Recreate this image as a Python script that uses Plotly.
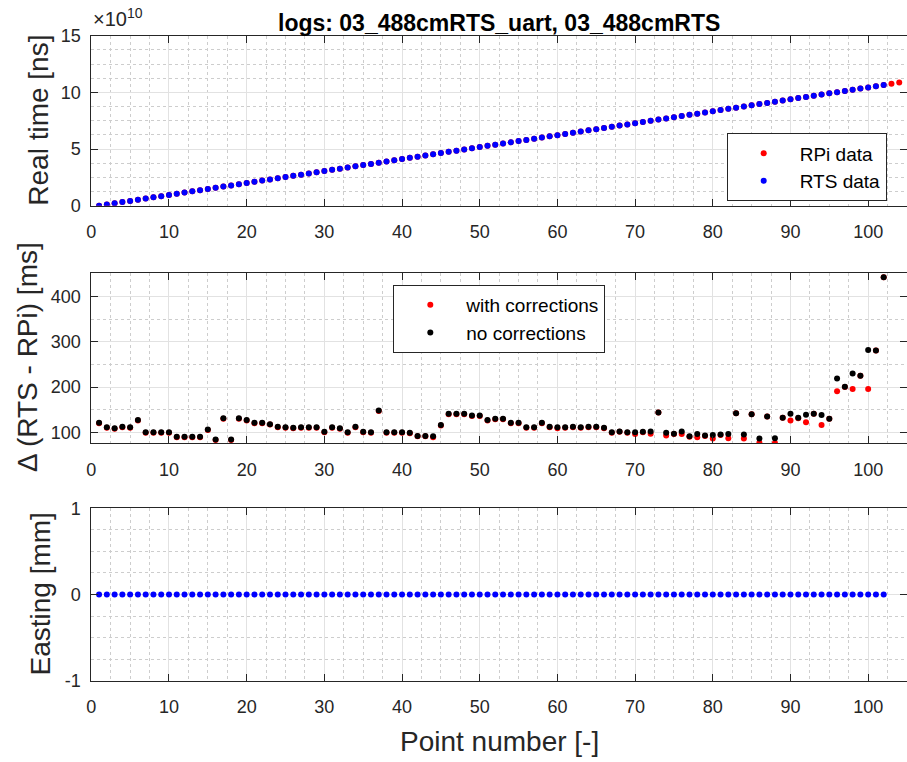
import plotly.graph_objects as go

# ---------------- data ----------------
point_rpi = list(range(1, 105))
point_rts = list(range(1, 103))

# real time, in units of 1e10 ns
rpi_time_e10 = [
    0.00, 0.11, 0.21, 0.32, 0.42, 0.53, 0.63, 0.74, 0.84, 0.95,
    1.06, 1.16, 1.27, 1.37, 1.48, 1.58, 1.69, 1.79, 1.90, 2.00,
    2.11, 2.22, 2.32, 2.43, 2.53, 2.64, 2.74, 2.85, 2.95, 3.06,
    3.17, 3.27, 3.38, 3.48, 3.59, 3.69, 3.80, 3.90, 4.01, 4.11,
    4.22, 4.33, 4.43, 4.54, 4.64, 4.75, 4.85, 4.96, 5.06, 5.17,
    5.28, 5.38, 5.49, 5.59, 5.70, 5.80, 5.91, 6.01, 6.12, 6.22,
    6.33, 6.44, 6.54, 6.65, 6.75, 6.86, 6.96, 7.07, 7.17, 7.28,
    7.39, 7.49, 7.60, 7.70, 7.81, 7.91, 8.02, 8.12, 8.23, 8.33,
    8.44, 8.55, 8.65, 8.76, 8.86, 8.97, 9.07, 9.18, 9.28, 9.39,
    9.50, 9.60, 9.71, 9.81, 9.92, 10.02, 10.13, 10.23, 10.34, 10.44,
    10.55, 10.66, 10.76, 10.87,
]
rts_time_e10 = rpi_time_e10[:102]

# delta RTS - RPi [ms]
delta_no_corr = [
    121, 111, 109, 112, 111, 127, 100, 100, 100, 100,
    90, 90, 90, 90, 106, 84, 131, 84, 131, 127,
    121, 121, 118, 112, 111, 110, 111, 111, 111, 101,
    111, 109, 100, 112, 101, 100, 148, 100, 100, 100,
    99, 92, 92, 91, 116, 141, 141, 141, 137, 137,
    127, 130, 130, 121, 121, 111, 111, 121, 112, 111,
    111, 112, 111, 112, 112, 110, 100, 102, 100, 100,
    101, 102, 144, 99, 97, 102, 91, 96, 93, 94,
    95, 96, 142, 95, 140, 86, 135, 87, 132, 141,
    132, 139, 141, 138, 130, 219, 201, 230, 225, 282,
    281, 443,
]
delta_with_corr = [
    120, 110, 108, 111, 110, 126, 99, 99, 99, 99,
    89, 89, 89, 89, 105, 83, 130, 83, 130, 126,
    120, 120, 117, 111, 110, 109, 110, 110, 110, 100,
    110, 108, 99, 111, 100, 99, 147, 99, 99, 99,
    98, 91, 91, 89, 115, 140, 140, 140, 136, 136,
    126, 129, 129, 120, 120, 110, 110, 120, 111, 109,
    110, 111, 110, 111, 111, 109, 99, 101, 99, 96,
    100, 97, 144, 93, 96, 96, 90, 89, 92, 86,
    94, 87, 142, 86, 140, 77, 135, 76, 132, 126,
    131, 122, 141, 116, 130, 191, 200, 196, 225, 196,
    281, 443,
]

easting_mm = [
    0, 0, 0, 0, 0, 0, 0, 0, 0, 0, 0, 0, 0, 0, 0, 0, 0,
    0, 0, 0, 0, 0, 0, 0, 0, 0, 0, 0, 0, 0, 0, 0, 0, 0,
    0, 0, 0, 0, 0, 0, 0, 0, 0, 0, 0, 0, 0, 0, 0, 0, 0,
    0, 0, 0, 0, 0, 0, 0, 0, 0, 0, 0, 0, 0, 0, 0, 0, 0,
    0, 0, 0, 0, 0, 0, 0, 0, 0, 0, 0, 0, 0, 0, 0, 0, 0,
    0, 0, 0, 0, 0, 0, 0, 0, 0, 0, 0, 0, 0, 0, 0, 0, 0,
]

x_ticks = [0, 10, 20, 30, 40, 50, 60, 70, 80, 90, 100]
top_tick_vals = [0, 5e10, 10e10, 15e10]
top_tick_text = ["0", "5", "10", "15"]
bottom_tick_vals = [-1, 0, 1]
bottom_tick_text = ["-1", "0", "1"]

# ---------------- style ----------------
FONT = "Liberation Sans"
TXT = "#262626"
W, H = 907, 762


def py(px):
    return 1 - px / H


axis_common = dict(
    showline=True, linecolor=TXT, linewidth=1, mirror="ticks",
    ticks="inside", ticklen=7, tickcolor=TXT, tickwidth=1,
    tickfont=dict(family=FONT, size=18, color=TXT),
    showgrid=True, gridcolor="#e2e2e2", gridwidth=1, zeroline=False,
    automargin=False,
)
minor_grid = dict(showgrid=True, gridcolor="#cdcdcd", griddash="dot", gridwidth=1)


def xax(anchor):
    return dict(axis_common, range=[0, 105], tickvals=x_ticks, anchor=anchor,
                domain=[91.3 / W, 1], ticklabelstandoff=10,
                minor=dict(minor_grid, dtick=2.5, tick0=0))


fig = go.Figure()
mk = dict(size=6, line=dict(width=0))

fig.add_trace(go.Scatter(x=point_rpi, y=[v * 1e10 for v in rpi_time_e10], mode="markers",
                         marker=dict(mk, color="#ff0000"), name="RPi data",
                         xaxis="x", yaxis="y", legend="legend"))
fig.add_trace(go.Scatter(x=point_rts, y=[v * 1e10 for v in rts_time_e10], mode="markers",
                         marker=dict(mk, color="#0000ff"), name="RTS data",
                         xaxis="x", yaxis="y", legend="legend"))
fig.add_trace(go.Scatter(x=point_rts, y=delta_with_corr, mode="markers",
                         marker=dict(mk, color="#ff0000"), name="with corrections",
                         xaxis="x2", yaxis="y2", legend="legend2"))
fig.add_trace(go.Scatter(x=point_rts, y=delta_no_corr, mode="markers",
                         marker=dict(mk, color="#000000"), name="no corrections",
                         xaxis="x2", yaxis="y2", legend="legend2"))
fig.add_trace(go.Scatter(x=point_rts, y=easting_mm, mode="markers",
                         marker=dict(mk, color="#0000ff"), name="Easting",
                         xaxis="x3", yaxis="y3", showlegend=False))

legend_common = dict(
    xanchor="left", yanchor="top", bgcolor="#ffffff", bordercolor=TXT, borderwidth=1,
    font=dict(family=FONT, size=19, color="#000000"), itemwidth=62,
)

fig.update_layout(
    width=W, height=H,
    margin=dict(l=0, r=0, t=0, b=0, autoexpand=False),
    paper_bgcolor="#ffffff", plot_bgcolor="#ffffff",
    font=dict(family=FONT, color=TXT),
    showlegend=True,
    xaxis=xax("y"),
    xaxis2=xax("y2"),
    xaxis3=xax("y3"),
    yaxis=dict(axis_common, range=[0, 15e10], tickvals=top_tick_vals, ticktext=top_tick_text,
               domain=[py(205.7), py(35.7)], anchor="x", ticklabelstandoff=6,
               minor=dict(minor_grid, dtick=1.25e10, tick0=0)),
    yaxis2=dict(axis_common, range=[75.6, 452], tickvals=[100, 200, 300, 400],
                domain=[py(443.3), py(273.3)], anchor="x2", ticklabelstandoff=6,
                minor=dict(minor_grid, dtick=50, tick0=0)),
    yaxis3=dict(axis_common, range=[-1, 1], tickvals=bottom_tick_vals, ticktext=bottom_tick_text,
                domain=[py(680.7), py(508.3)], anchor="x3", ticklabelstandoff=6,
                minor=dict(minor_grid, dtick=0.25, tick0=0)),
    legend=dict(legend_common, x=726.7 / W, y=py(133.3)),
    legend2=dict(legend_common, x=393.3 / W, y=py(285)),
)

annotations = [
    dict(text="<b>logs: 03_488cmRTS_uart, 03_488cmRTS</b>", x=498.5 / W, y=py(23.5),
         xanchor="center", yanchor="middle", font=dict(family=FONT, size=23, color="#000000")),
    dict(text="×10<sup>10</sup>", x=91 / W, y=py(32), xanchor="left", yanchor="bottom",
         font=dict(family=FONT, size=20, color=TXT)),
    dict(text="Real time [ns]", x=39 / W, y=py(120.7), textangle=-90,
         xanchor="center", yanchor="middle", font=dict(family=FONT, size=28, color=TXT)),
    dict(text="Δ (RTS - RPi) [ms]", x=27 / W, y=py(357), textangle=-90,
         xanchor="center", yanchor="middle", font=dict(family=FONT, size=28, color=TXT)),
    dict(text="Easting [mm]", x=40 / W, y=py(594.5), textangle=-90,
         xanchor="center", yanchor="middle", font=dict(family=FONT, size=28, color=TXT)),
    dict(text="Point number [-]", x=499.5 / W, y=py(741.7),
         xanchor="center", yanchor="middle", font=dict(family=FONT, size=28, color=TXT)),
]
for a in annotations:
    a.update(xref="paper", yref="paper", showarrow=False)
fig.update_layout(annotations=annotations)

fig.write_html(
    "out.html",
    config={"displayModeBar": False},
    post_script="document.body.style.margin='0';document.body.style.overflow='hidden';",
)
